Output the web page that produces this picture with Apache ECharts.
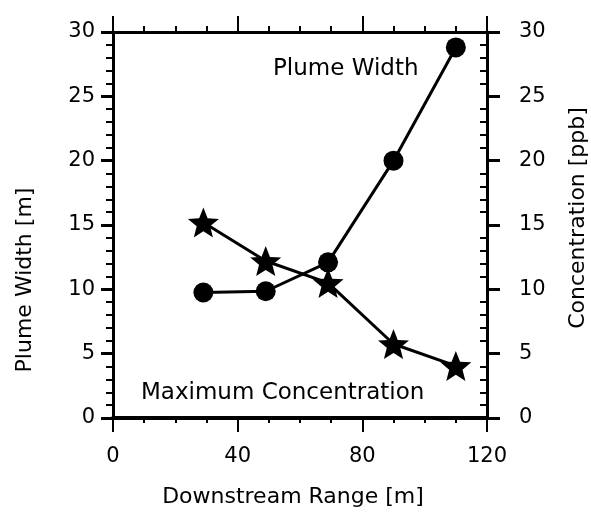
<!DOCTYPE html>
<html>
<head>
<meta charset="utf-8">
<script src="https://cdn.jsdelivr.net/npm/echarts@6/dist/echarts.min.js"></script>
<style>html,body{margin:0;padding:0;background:#fff}#c{width:591px;height:513px}</style>
</head>
<body>
<div id="c"></div>
<script>
var rangeX = [29, 49, 69, 90, 110];
var plumeWidth = [9.75, 9.85, 12.1, 20.0, 28.8];
var maxConcentration = [15.2, 12.2, 10.5, 5.75, 4.05];
var xTitle = 'Downstream Range [m]';
var yLeftTitle = 'Plume Width [m]';
var yRightTitle = 'Concentration [ppb]';
var plumeLabel = 'Plume Width';
var concLabel = 'Maximum Concentration';

var FONT = 'DejaVu Sans';
var starPath = 'path://M0,-10 L2.6,-3.4 L9.51,-3.09 L4.1,1.3 L5.88,8.09 L0,4.4 L-5.88,8.09 L-4.1,1.3 L-9.51,-3.09 L-2.6,-3.4 Z';

var GL = 113, GR = 104, W = 591;
var plotW = W - GL - GR;

var chart = echarts.init(document.getElementById('c'), null, {renderer: 'canvas'});
var lbl = {color: '#000', fontFamily: FONT, fontSize: 21};
chart.setOption({
  animation: false,
  backgroundColor: '#fff',
  grid: {left: GL, right: GR, top: 32, bottom: 95, containLabel: false, outerBoundsMode: 'none'},
  xAxis: [{
    type: 'value', min: 0, max: 120, interval: 40, position: 'bottom',
    name: xTitle, nameLocation: 'middle', nameGap: 68,
    nameTextStyle: {color: '#000', fontFamily: FONT, fontSize: 22, padding: [0, 14, 0, 0]},
    axisLine: {onZero: false, lineStyle: {color: '#000', width: 4}},
    axisTick: {inside: false, length: 14, lineStyle: {color: '#000', width: 2}},
    minorTick: {show: true, splitNumber: 4, length: 5, lineStyle: {color: '#000', width: 2}},
    axisLabel: Object.assign({margin: 28}, lbl),
    splitLine: {show: false}
  }, {
    type: 'value', min: 0, max: 120, interval: 40, position: 'top',
    axisLine: {onZero: false, lineStyle: {color: '#000', width: 3}},
    axisTick: {inside: false, length: 16, lineStyle: {color: '#000', width: 2}},
    minorTick: {show: true, splitNumber: 4, length: 6, lineStyle: {color: '#000', width: 2}},
    axisLabel: {show: false},
    splitLine: {show: false}
  }],
  yAxis: [{
    type: 'value', min: 0, max: 30, interval: 5, position: 'left',
    name: yLeftTitle, nameLocation: 'middle', nameGap: 77, nameRotate: 90,
    nameTextStyle: {color: '#000', fontFamily: FONT, fontSize: 22, padding: [0, 110, 0, 0]},
    axisLine: {onZero: false, lineStyle: {color: '#000', width: 3}},
    axisTick: {inside: false, length: 12, lineStyle: {color: '#000', width: 3}},
    minorTick: {show: true, splitNumber: 5, length: 7, lineStyle: {color: '#000', width: 2}},
    axisLabel: Object.assign({margin: 18}, lbl),
    splitLine: {show: false}
  }, {
    type: 'value', min: 0, max: 30, interval: 5, position: 'right',
    name: yRightTitle, nameLocation: 'middle', nameGap: 80, nameRotate: 90,
    nameTextStyle: {color: '#000', fontFamily: FONT, fontSize: 22, padding: [0, 0, 0, 14]},
    axisLine: {onZero: false, lineStyle: {color: '#000', width: 3}},
    axisTick: {inside: false, length: 13, lineStyle: {color: '#000', width: 3}},
    minorTick: {show: false},
    axisLabel: Object.assign({margin: 32}, lbl),
    splitLine: {show: false}
  }, {
    type: 'value', min: 0, max: 30, interval: 5, position: 'left', offset: -plotW,
    axisLine: {show: false, onZero: false},
    axisTick: {show: false},
    minorTick: {show: true, splitNumber: 5, length: 7, lineStyle: {color: '#000', width: 2}},
    axisLabel: {show: false},
    splitLine: {show: false}
  }],
  series: [{
    type: 'line', xAxisIndex: 0, yAxisIndex: 0,
    data: rangeX.map(function (x, i) { return [x, plumeWidth[i]]; }),
    symbol: 'circle', symbolSize: 20,
    lineStyle: {color: '#000', width: 3},
    itemStyle: {color: '#000'}
  }, {
    type: 'line', xAxisIndex: 0, yAxisIndex: 1,
    data: rangeX.map(function (x, i) { return [x, maxConcentration[i]]; }),
    symbol: starPath, symbolSize: [31, 30],
    lineStyle: {color: '#000', width: 3},
    itemStyle: {color: '#000'}
  }],
  graphic: [{
    type: 'text', left: 273, top: 58,
    style: {text: plumeLabel, fill: '#000', font: '23px "DejaVu Sans"'}
  }, {
    type: 'text', left: 141, top: 382,
    style: {text: concLabel, fill: '#000', font: '23px "DejaVu Sans"'}
  }]
});
</script>
</body>
</html>
